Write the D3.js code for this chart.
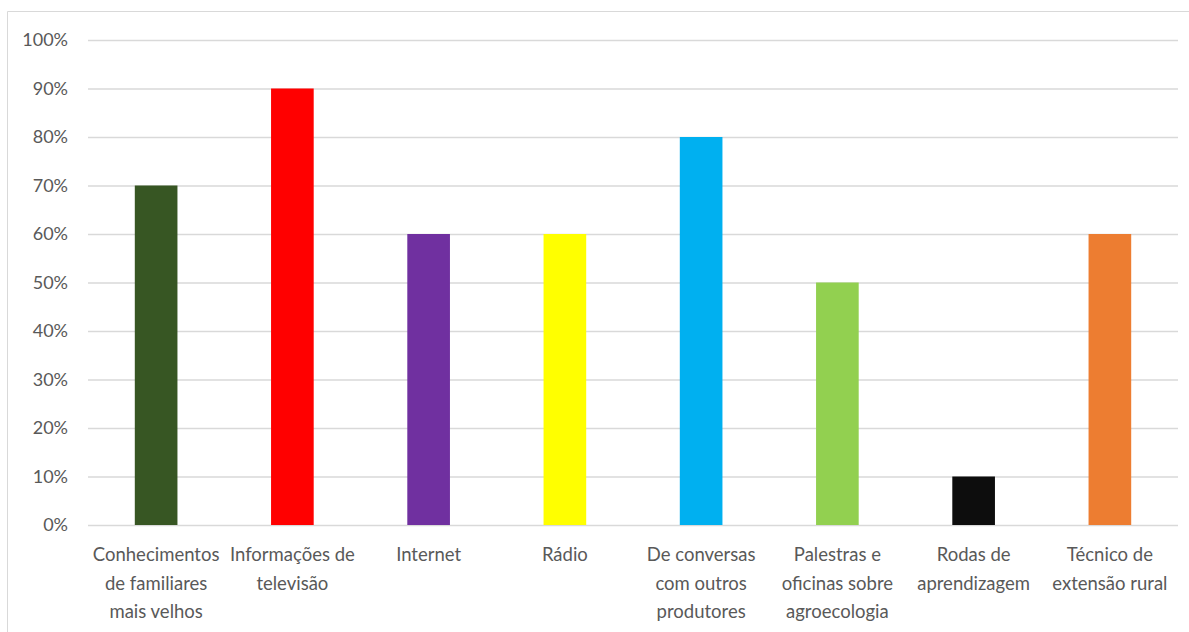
<!DOCTYPE html>
<html>
<head>
    <meta charset="utf-8">
    <script src="https://d3js.org/d3.v7.min.js"></script>
    <style>
        html, body { margin: 0; padding: 0; background: #fff; overflow: hidden; }
        svg { display: block; }
    </style>
</head>
<body>
    <svg width="1189" height="632" id="mainSvg"></svg>
    <script>
        // data
        const categories = [
            "Conhecimentos de familiares mais velhos",
            "Informações de televisão",
            "Internet",
            "Rádio",
            "De conversas com outros produtores",
            "Palestras e oficinas sobre agroecologia",
            "Rodas de aprendizagem",
            "Técnico de extensão rural"
        ];
        const labelLines = [
            ["Conhecimentos", "de familiares", "mais velhos"],
            ["Informações de", "televisão"],
            ["Internet"],
            ["Rádio"],
            ["De conversas", "com outros", "produtores"],
            ["Palestras e", "oficinas sobre", "agroecologia"],
            ["Rodas de", "aprendizagem"],
            ["Técnico de", "extensão rural"]
        ];
        const values = [0.7, 0.9, 0.6, 0.6, 0.8, 0.5, 0.1, 0.6];
        const colors = ["#375623", "#FF0000", "#7030A0", "#FFFF00", "#00B0F0", "#92D050", "#0D0D0D", "#ED7D31"];
        const yTicks = [0, 0.1, 0.2, 0.3, 0.4, 0.5, 0.6, 0.7, 0.8, 0.9, 1];

        const svg = d3.select("#mainSvg");
        const fontFam = "Lato, 'Liberation Sans', sans-serif";
        const textColor = "#595959";

        // chart border: top and left edges only
        svg.append("line")
            .attr("x1", 7.5).attr("y1", 11.5).attr("x2", 1189).attr("y2", 11.5)
            .attr("stroke", "#d9d9d9");
        svg.append("line")
            .attr("x1", 7.5).attr("y1", 11.5).attr("x2", 7.5).attr("y2", 632)
            .attr("stroke", "#d9d9d9");

        const margin = { top: 40, left: 88, right: 11, bottom: 107 };
        const innerWidth = 1189 - margin.left - margin.right;
        const innerHeight = 632 - margin.top - margin.bottom;
        const g = svg.append("g")
            .attr("transform", `translate(${margin.left}, ${margin.top})`);

        const xScale = d3.scaleBand()
            .domain(categories)
            .range([0, innerWidth])
            .padding(0);
        const yScale = d3.scaleLinear()
            .domain([0, 1])
            .range([innerHeight, 0]);

        const yAxis = d3.axisLeft(yScale)
            .tickValues(yTicks)
            .tickFormat(d3.format(".0%"))
            .tickSize(-innerWidth)
            .tickPadding(20);
        const yAxisGroup = g.append("g")
            .attr("font-family", fontFam)
            .attr("font-size", 18)
            .call(yAxis);
        yAxisGroup.attr("font-family", fontFam).attr("font-size", 18);
        yAxisGroup.select(".domain").remove();
        yAxisGroup.selectAll(".tick line")
            .attr("stroke", "#d9d9d9")
            .attr("stroke-width", 1.3);
        yAxisGroup.selectAll(".tick text")
            .attr("fill", textColor);

        const barW = xScale.bandwidth() * 0.313;
        g.selectAll(".bar")
            .data(values)
            .join("rect")
            .attr("class", "bar")
            .attr("x", (d, i) => xScale(categories[i]) + xScale.bandwidth() / 2 - barW / 2)
            .attr("y", d => yScale(d))
            .attr("width", barW)
            .attr("height", d => innerHeight - yScale(d))
            .attr("fill", (d, i) => colors[i]);

        // category labels, wrapped as in the original
        const labels = g.append("g")
            .attr("transform", `translate(0, ${innerHeight})`)
            .attr("font-family", fontFam)
            .attr("font-size", 18.5)
            .attr("fill", textColor)
            .attr("text-anchor", "middle");
        categories.forEach((c, i) => {
            const cx = xScale(c) + xScale.bandwidth() / 2;
            labelLines[i].forEach((line, j) => {
                labels.append("text")
                    .attr("x", cx)
                    .attr("y", 36 + j * 28.5)
                    .text(line);
            });
        });
    </script>
</body>
</html>
